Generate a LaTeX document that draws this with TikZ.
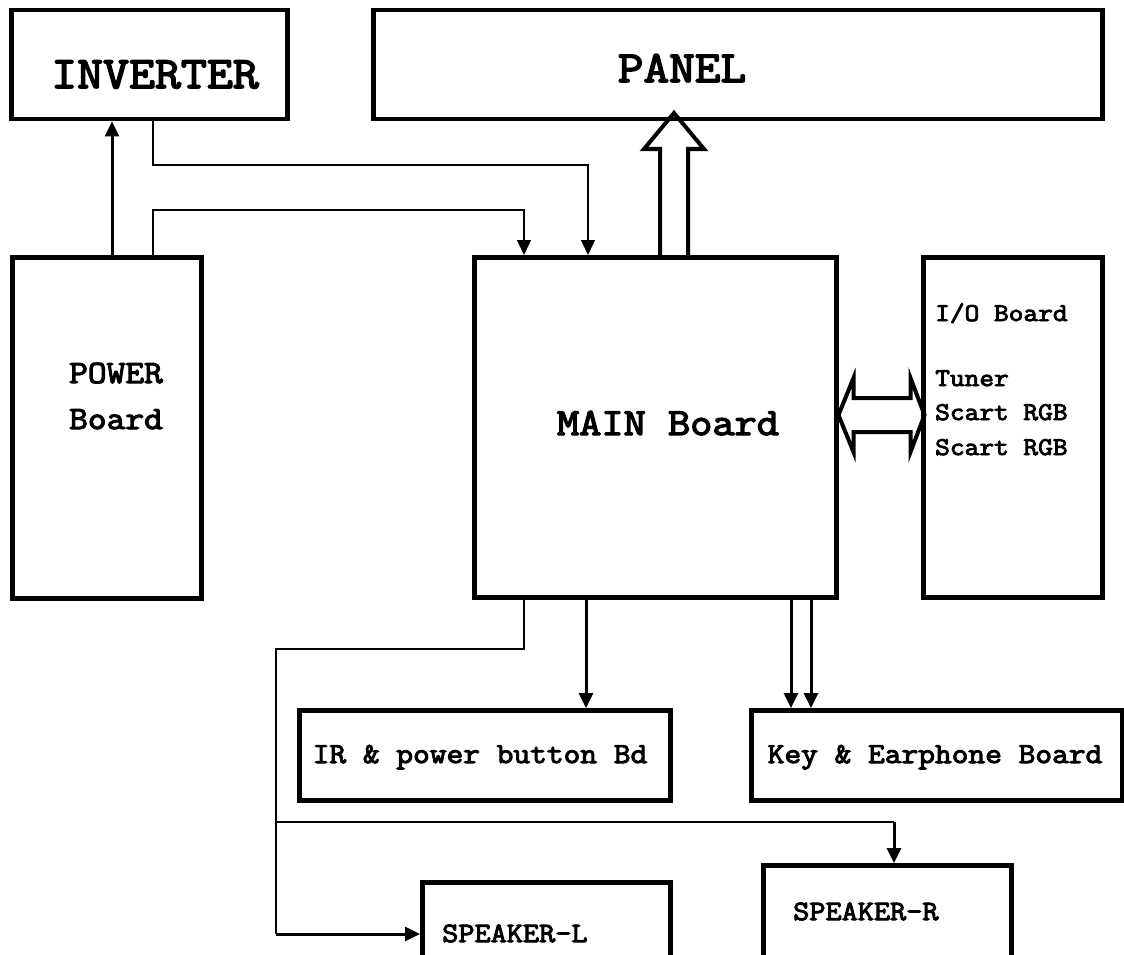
\documentclass[tikz,border=0pt]{standalone}
\usepackage{fontspec}
\newfontfamily\cour{Latin Modern Mono}[FakeBold=3.5, FakeStretch=1.12]
\usetikzlibrary{arrows.meta}
\begin{document}
\begin{tikzpicture}[x=1pt,y=-1pt,
  box/.style={draw, line width=4.5pt, rectangle, inner sep=0pt, anchor=north west},
  lbl/.style={inner sep=0pt},
  thn/.style={line width=1.5pt},
  thk/.style={line width=3pt},
  tip/.style={-{Triangle[width=14pt,length=15pt]}},
  fat/.style={line width=4pt, line join=miter}]
\useasboundingbox (0,0) rectangle (1124,955);
\clip (0,0) rectangle (1124,955);
% boxes
\node[box, minimum width=276pt, minimum height=109pt] (inverter) at (9,8) {};
\node[box, minimum width=729pt, minimum height=109pt] (panel) at (371,8) {};
\node[box, minimum width=189pt, minimum height=341pt] (power) at (10,255) {};
\node[box, minimum width=362pt, minimum height=340pt] (main) at (472,255) {};
\node[box, minimum width=179pt, minimum height=340pt] (io) at (921,255) {};
\node[box, minimum width=371pt, minimum height=90pt] (ir) at (297,708) {};
\node[box, minimum width=371pt, minimum height=90pt] (key) at (749,708) {};
\node[box, minimum width=248pt, minimum height=140pt] (spkL) at (420,880) {};
\node[box, minimum width=248pt, minimum height=140pt] (spkR) at (761,863) {};
% labels
\node[lbl, anchor=base, font=\cour\fontsize{45}{50}\selectfont] (tinv) at (155,88) {INVERTER};
\node[lbl, anchor=base, font=\cour\fontsize{44.5}{50}\selectfont] (tpan) at (682,82) {PANEL};
\node[lbl, anchor=base, font=\cour\fontsize{32.5}{40}\selectfont] (tpw1) at (116,383) {POWER};
\node[lbl, anchor=base, font=\cour\fontsize{32.5}{40}\selectfont] (tpw2) at (116,429) {Board};
\node[lbl, anchor=base, font=\cour\fontsize{38.5}{44}\selectfont] (tmain) at (668,435) {MAIN Board};
\node[lbl, anchor=base west, font=\cour\fontsize{25.5}{30}\selectfont] (tio1) at (935,321) {I/O Board};
\node[lbl, anchor=base west, font=\cour\fontsize{25.5}{30}\selectfont] (tio2) at (935,386) {Tuner};
\node[lbl, anchor=base west, font=\cour\fontsize{25.5}{30}\selectfont] (tio3) at (935,420) {Scart RGB};
\node[lbl, anchor=base west, font=\cour\fontsize{25.5}{30}\selectfont] (tio4) at (935,455) {Scart RGB};
\node[lbl, anchor=base, font=\cour\fontsize{29}{34}\selectfont] (tir) at (480,763) {IR \& power button Bd};
\node[lbl, anchor=base, font=\cour\fontsize{29}{34}\selectfont] (tkey) at (935,763) {Key \& Earphone Board};
\node[lbl, anchor=base west, font=\cour\fontsize{28}{34}\selectfont] (tspl) at (442,942) {SPEAKER-L};
\node[lbl, anchor=base west, font=\cour\fontsize{28}{34}\selectfont] (tspr) at (793,920) {SPEAKER-R};
% helper coordinates
\coordinate (xa) at (112,0);
\coordinate (xb) at (153,0);
\coordinate (xc) at (588,0);
\coordinate (xd) at (524,0);
\coordinate (xe) at (276,0);
\coordinate (xf) at (894,0);
\coordinate (xg) at (586,0);
\coordinate (xh) at (791,0);
\coordinate (xi) at (811,0);
\coordinate (pax) at (674,0);
\coordinate (ya) at (0,165);
\coordinate (yb) at (0,210);
\coordinate (yc) at (0,649);
\coordinate (ym) at (0,822);
\coordinate (yL) at (0,934);
\coordinate (ioy) at (0,415);
% connectors
\draw[thk, tip] (power.north -| xa) -- (inverter.south -| xa);
\draw[thn, tip] (inverter.south -| xb) -- (xb |- ya) -| (main.north -| xc);
\draw[thn, tip] (power.north -| xb) -- (xb |- yb) -| (main.north -| xd);
\draw[thn] (main.south -| xd) -- (xd |- yc) -| (xe |- yL);
\draw[thk, tip] (xe |- yL) -- (spkL.west |- yL);
\draw[thn] (xe |- ym) -- (xf |- ym);
\draw[thk, tip] (xf |- ym) -- (spkR.north -| xf);
\draw[thk, tip] (main.south -| xg) -- (ir.north -| xg);
\draw[thk, tip] (main.south -| xh) -- (key.north -| xh);
\draw[thk, tip] (main.south -| xi) -- (key.north -| xi);
% fat arrow to panel
\draw[fat] (main.north -| pax) ++(-14,0) -- ++(0,-106) -- ++(-16,0) -- ++(30,-36) -- ++(30,36) -- ++(-16,0) -- ++(0,106);
% double arrow main <-> io
\draw[fat] (main.east |- ioy) -- ++(15,-37) -- ++(0,20) -- ++(57,0) -- ++(0,-20) -- ++(14,37) -- ++(-14,37) -- ++(0,-20) -- ++(-57,0) -- ++(0,20) -- cycle;
\end{tikzpicture}
\end{document}
